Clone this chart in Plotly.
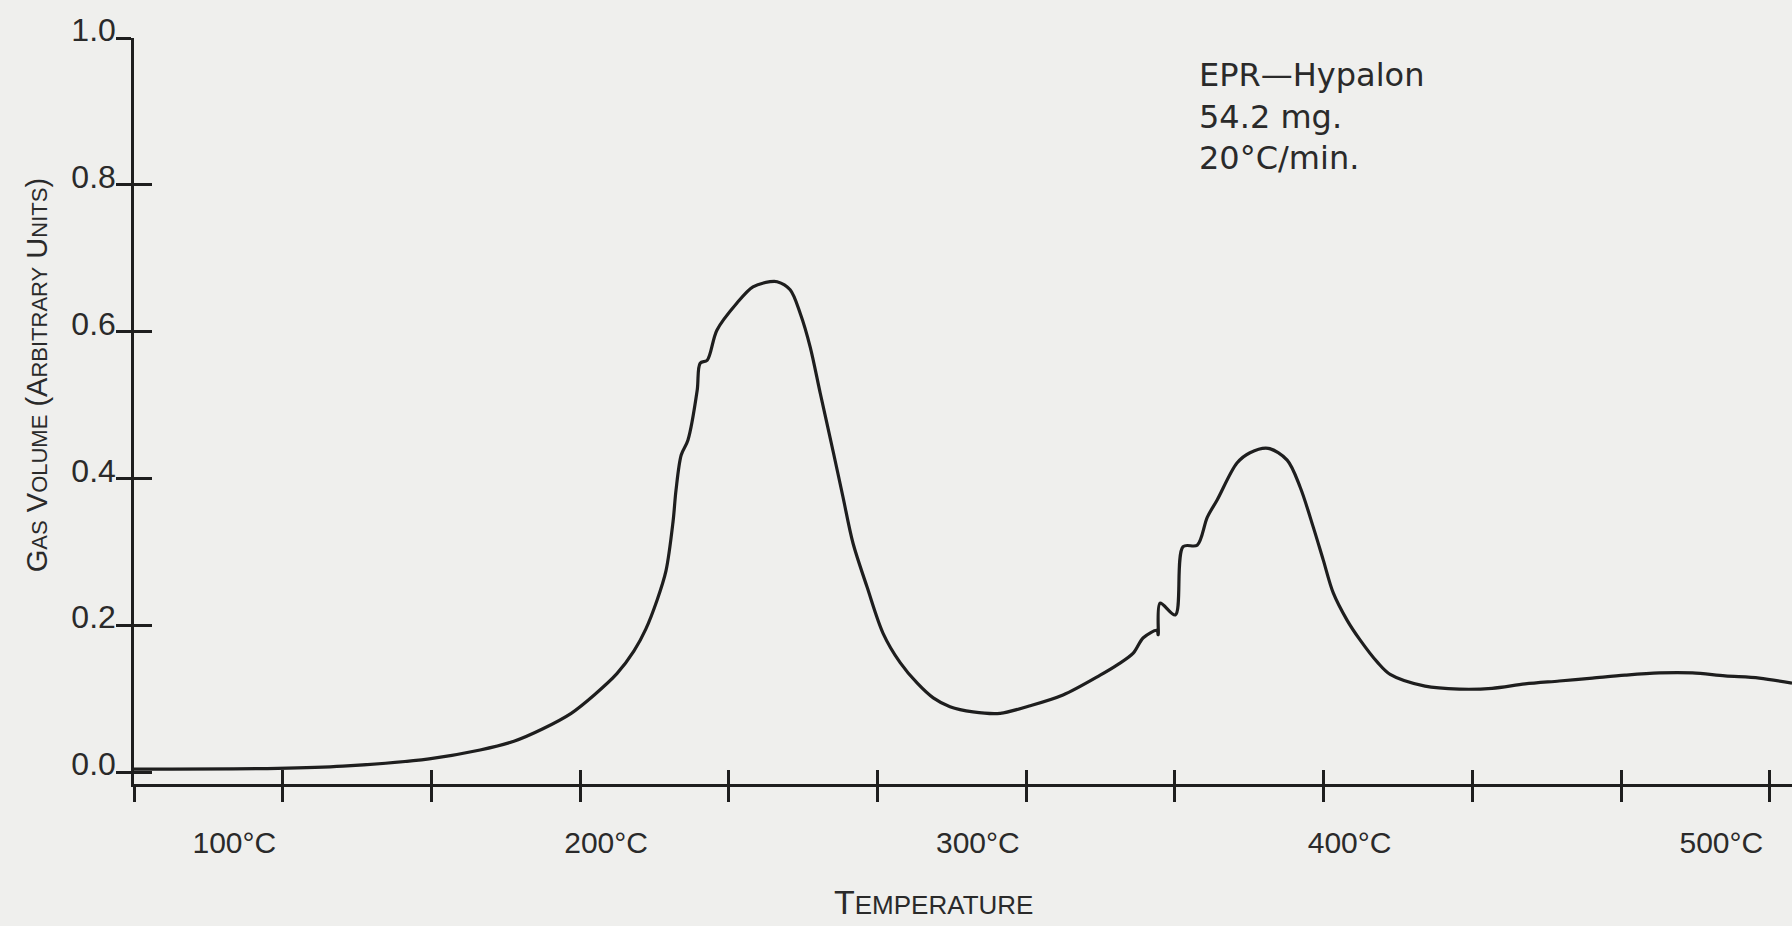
import plotly.graph_objects as go

# ---- data ----
temperature_c = [80, 118.7, 136.2, 159.4, 173.1, 182.2, 190.0, 197.6, 203.8, 209.9, 214.5, 217.7,
                 220.7, 223.1, 225.0, 225.8, 227.2, 229.0, 231.5, 232.3, 234.2, 236.8,
                 242.2, 246.5, 251.1, 253.0, 256.5, 259.2, 261.9, 264.6, 268.1, 270.7,
                 273.4, 277.2, 281.5, 286.1, 290.7, 295.0, 299.5, 305.7, 313.0, 320.8,
                 329.9, 339.9, 344.5, 348.8, 351.5, 355.2, 355.5, 356.0, 360.1, 362.2,
                 366.0, 368.7, 371.4, 376.7, 380.2, 385.1, 390.2, 393.7, 397.2, 399.9,
                 402.6, 406.3, 409.8, 414.4, 417.9, 427.3, 436.5, 445.3, 454.2, 463.4,
                 472.3, 481.1, 490.3, 499.2, 508.0, 517.2, 526.0]
gas_volume = [0.004, 0.005, 0.008, 0.018, 0.030, 0.042, 0.059, 0.080, 0.105, 0.134, 0.165, 0.195,
              0.234, 0.274, 0.341, 0.384, 0.432, 0.452, 0.520, 0.557, 0.561, 0.602,
              0.639, 0.661, 0.668, 0.668, 0.657, 0.625, 0.579, 0.516, 0.436, 0.375,
              0.312, 0.252, 0.189, 0.149, 0.121, 0.101, 0.089, 0.082, 0.080, 0.090,
              0.105, 0.132, 0.146, 0.162, 0.183, 0.193, 0.187, 0.230, 0.214, 0.307,
              0.309, 0.347, 0.371, 0.421, 0.435, 0.441, 0.425, 0.388, 0.334, 0.289,
              0.244, 0.207, 0.180, 0.150, 0.133, 0.117, 0.113, 0.114, 0.120, 0.124,
              0.128, 0.132, 0.135, 0.135, 0.131, 0.128, 0.121]

axis_tick_c = [80, 120, 160, 200, 240, 280, 320, 360, 400, 440, 480, 520]
label_tick_c = [100, 200, 300, 400, 500]
label_tick_text = ["100°C", "200°C", "300°C", "400°C", "500°C"]
y_tick_vals = [0.0, 0.2, 0.4, 0.6, 0.8, 1.0]
y_tick_text = ["0.0", "0.2", "0.4", "0.6", "0.8", "1.0"]

x_range = [80, 526]
y_range = [-0.0163, 1.0]

INK = "#1e1e1e"
BG = "#efefed"
TEXT = "#2a2a2a"
X_TICK_FONT = dict(family="Liberation Sans Narrow, Liberation Sans, Arial, sans-serif", size=30, color=TEXT)
Y_TICK_FONT = dict(family="Liberation Sans Narrow, Liberation Sans, Arial, sans-serif", size=32, color=TEXT)
TITLE_FAMILY = "Liberation Sans Narrow, Liberation Sans, Arial, sans-serif"

fig = go.Figure()
fig.add_trace(go.Scatter(x=temperature_c, y=gas_volume, mode="lines",
                         line=dict(color=INK, width=3.2, shape="spline", smoothing=0.9),
                         hoverinfo="skip", showlegend=False))
# same curve registered (invisibly) on the overlay axes so they are drawn
fig.add_trace(go.Scatter(x=temperature_c, y=gas_volume, mode="lines", xaxis="x2", yaxis="y2",
                         line=dict(color="rgba(0,0,0,0)", width=0), hoverinfo="skip", showlegend=False))
fig.add_trace(go.Scatter(x=temperature_c, y=gas_volume, mode="lines", xaxis="x3", yaxis="y",
                         line=dict(color="rgba(0,0,0,0)", width=0), hoverinfo="skip", showlegend=False))

common = dict(showgrid=False, zeroline=False)
fig.update_layout(
    width=1792, height=926,
    margin=dict(l=134, r=0, t=38, b=142),
    paper_bgcolor=BG, plot_bgcolor=BG,
    showlegend=False,
    xaxis=dict(range=x_range, tickmode="array", tickvals=axis_tick_c, ticks="outside",
               ticklen=15, tickwidth=2.5, tickcolor=INK, showticklabels=False,
               showline=True, linecolor=INK, linewidth=2.5, **common),
    xaxis2=dict(range=x_range, overlaying="x", anchor="y2", side="bottom", tickmode="array",
                tickvals=axis_tick_c, ticks="inside", ticklen=14, tickwidth=2.5, tickcolor=INK,
                showticklabels=False, showline=False, **common),
    xaxis3=dict(range=x_range, overlaying="x", anchor="y", side="bottom", tickmode="array",
                tickvals=label_tick_c, ticktext=label_tick_text, ticks="",
                ticklabelshift=26, ticklabelstandoff=38, tickfont=X_TICK_FONT,
                showline=False, **common),
    yaxis=dict(range=y_range, tickmode="array", tickvals=y_tick_vals, ticktext=y_tick_text,
               ticks="outside", ticklen=15, tickwidth=2.5, tickcolor=INK,
               ticklabelshift=-8, ticklabelstandoff=-6, tickfont=Y_TICK_FONT,
               showline=True, linecolor=INK, linewidth=2.5, **common),
    yaxis2=dict(range=y_range, overlaying="y", anchor="x2", side="left", tickmode="array",
                tickvals=y_tick_vals, ticks="inside", ticklen=18, tickwidth=2.5, tickcolor=INK,
                showticklabels=False, showline=False, **common),
)

small = "font-size:22px"
fig.add_annotation(
    xref="paper", yref="paper", x=-0.0585, y=0.548, xanchor="center", yanchor="middle",
    textangle=-90, showarrow=False,
    text=(f"G<span style='{small}'>AS</span> V<span style='{small}'>OLUME</span> "
          f"(A<span style='{small}'>RBITRARY</span> U<span style='{small}'>NITS</span>)"),
    font=dict(family=TITLE_FAMILY, size=29, color=TEXT),
)
fig.add_annotation(
    xref="paper", yref="paper", x=0.4825, y=-0.158, xanchor="center", yanchor="middle",
    showarrow=False,
    text="T<span style='font-size:26px'>EMPERATURE</span>",
    font=dict(family=TITLE_FAMILY, size=34, color=TEXT),
)
fig.add_annotation(
    xref="x", yref="paper", x=366, y=0.979, xanchor="left", yanchor="top", align="left",
    showarrow=False,
    text="EPR—Hypalon<br>54.2 mg.<br>20°C/min.",
    font=dict(family="DejaVu Sans, sans-serif", size=32, color=TEXT),
)

fig.write_html("out.html")
